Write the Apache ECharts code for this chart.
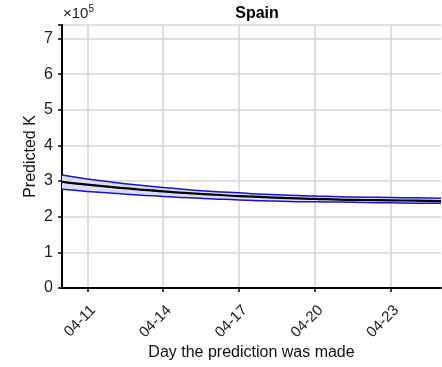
<!DOCTYPE html>
<html><head><meta charset="utf-8">
<script src="https://cdn.jsdelivr.net/npm/echarts@6/dist/echarts.min.js"></script>
<style>html,body{margin:0;padding:0;background:#fff}#c{width:442px;height:367px}</style>
</head><body><div id="c"></div>
<script>
const days = ['04-10','04-11','04-12','04-13','04-14','04-15','04-16','04-17','04-18','04-19','04-20','04-21','04-22','04-23','04-24','04-25'];
const meanK = [2.98,2.90,2.83,2.77,2.71,2.66,2.62,2.58,2.55,2.52,2.50,2.48,2.47,2.46,2.45,2.44];
const upperK = [3.17,3.06,2.97,2.89,2.82,2.76,2.71,2.67,2.63,2.60,2.58,2.56,2.55,2.54,2.53,2.52];
const lowerK = [2.77,2.71,2.66,2.61,2.57,2.53,2.50,2.47,2.45,2.43,2.42,2.41,2.40,2.39,2.38,2.38];
const yTicks = [0,1,2,3,4,5,6,7];

const bandWidth = upperK.map((u,i)=>+(u-lowerK[i]).toFixed(3));
const showIdx = (i)=> (i-1)%3===0 && i>=1;
const font = 'Liberation Sans, Arial, sans-serif';

const chart = echarts.init(document.getElementById('c'));
chart.setOption({
  animation:false,
  backgroundColor:'#fff',
  title:{text:'Spain',left:252,top:1,textAlign:'center',textStyle:{fontFamily:font,fontSize:16,fontWeight:'bold',color:'#000'}},
  graphic:[{type:'text',left:63,top:4,style:{text:'×10{s|5}',rich:{s:{fontSize:10,verticalAlign:'top',padding:[0,0,9,0],fontFamily:font,fill:'#222'}},fontFamily:font,fontSize:15,fill:'#222'}}],
  grid:{left:62,right:1,top:25,bottom:79},
  xAxis:{type:'category',data:days,boundaryGap:false,
    name:'Day the prediction was made',nameLocation:'middle',nameGap:57,nameMoveOverlap:false,
    nameTextStyle:{fontFamily:font,fontSize:16,color:'#111'},
    axisLine:{lineStyle:{color:'#000',width:2}},
    axisTick:{interval:(i)=>showIdx(i),length:4,lineStyle:{color:'#000',width:1.5}},
    axisLabel:{interval:(i)=>showIdx(i),rotate:45,fontFamily:font,fontSize:15,color:'#222',margin:14,
      verticalAlign:'top',lineHeight:17},
    splitLine:{show:true,interval:(i)=>showIdx(i),lineStyle:{color:'#d4d4d4',width:1.5}}},
  yAxis:{type:'value',min:0,max:7.38,interval:1,
    name:'Predicted K',nameLocation:'middle',nameGap:23,nameMoveOverlap:false,
    nameTextStyle:{fontFamily:font,fontSize:16,color:'#111'},
    axisLine:{show:true,lineStyle:{color:'#000',width:2}},
    axisTick:{show:true,length:4,lineStyle:{color:'#000',width:1.5}},
    axisLabel:{fontFamily:font,fontSize:16,color:'#222',margin:9,
      formatter:(v)=>yTicks.includes(v)?String(v):''},
    splitLine:{show:true,lineStyle:{color:'#d4d4d4',width:1.5}}},
  series:[
    {type:'line',data:lowerK,stack:'band',symbol:'none',lineStyle:{opacity:0},areaStyle:{opacity:0},silent:true},
    {type:'line',data:bandWidth,stack:'band',symbol:'none',lineStyle:{opacity:0},areaStyle:{color:'#dcdcf6',opacity:1},silent:true},
    {type:'line',data:upperK,symbol:'none',lineStyle:{color:'#1414d2',width:1.5},smooth:true},
    {type:'line',data:lowerK,symbol:'none',lineStyle:{color:'#1414d2',width:1.5},smooth:true},
    {type:'line',data:meanK,symbol:'none',lineStyle:{color:'#000',width:2.2},smooth:true}
  ]
});
</script></body></html>
